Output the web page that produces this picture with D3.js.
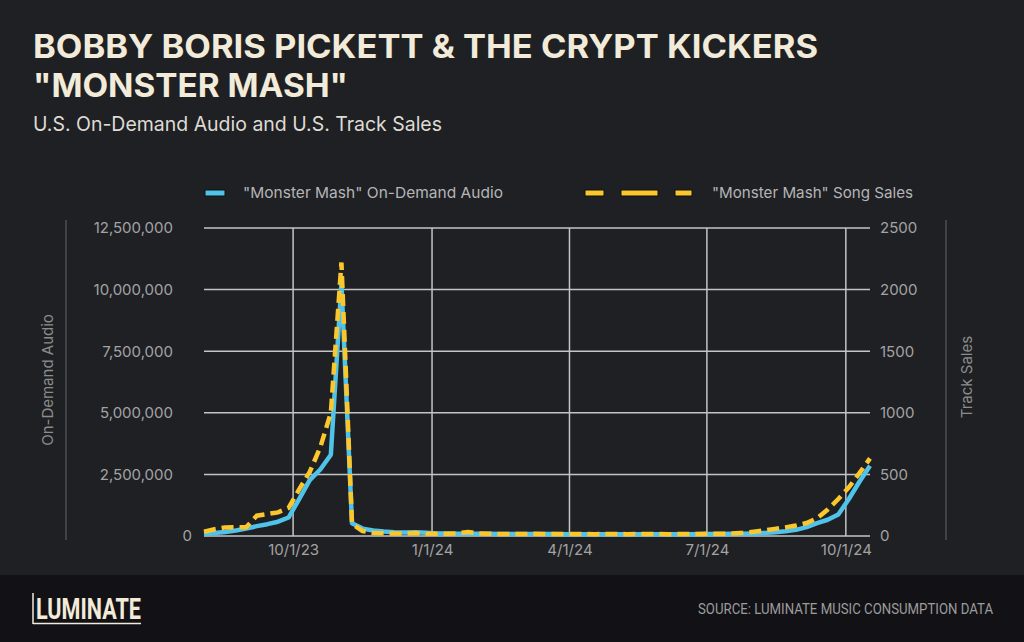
<!DOCTYPE html>
<html>
<head>
<meta charset="utf-8">
<script src="https://cdn.jsdelivr.net/npm/d3@7"></script>
<style>
  html, body { margin: 0; padding: 0; background: #1f2024; }
  svg { display: block; }
</style>
</head>
<body>
<svg id="chart" width="1024" height="642"></svg>
<script>
// ---------------- DATA ----------------
const weeks = [
  "2023-08-03","2023-08-10","2023-08-17","2023-08-24","2023-08-31","2023-09-07","2023-09-14","2023-09-21",
  "2023-09-28","2023-10-05","2023-10-12","2023-10-19","2023-10-26","2023-11-02","2023-11-09","2023-11-16",
  "2023-11-23","2023-11-30","2023-12-07","2023-12-14","2023-12-21","2023-12-28","2024-01-04","2024-01-11",
  "2024-01-18","2024-01-25","2024-02-01","2024-02-08","2024-02-15","2024-02-22","2024-02-29","2024-03-07",
  "2024-03-14","2024-03-21","2024-03-28","2024-04-04","2024-04-11","2024-04-18","2024-04-25","2024-05-02",
  "2024-05-09","2024-05-16","2024-05-23","2024-05-30","2024-06-06","2024-06-13","2024-06-20","2024-06-27",
  "2024-07-04","2024-07-11","2024-07-18","2024-07-25","2024-08-01","2024-08-08","2024-08-15","2024-08-22",
  "2024-08-29","2024-09-05","2024-09-12","2024-09-19","2024-09-26","2024-10-03","2024-10-10","2024-10-17"
];
const onDemandAudio = [
  80000,120000,160000,220000,300000,400000,480000,580000,
  750000,1500000,2270000,2700000,3300000,10250000,520000,300000,
  220000,180000,150000,140000,150000,130000,100000,100000,
  95000,90000,90000,88000,85000,82000,80000,80000,
  78000,78000,76000,76000,75000,75000,74000,74000,
  73000,73000,74000,73000,74000,75000,76000,78000,
  80000,82000,88000,95000,105000,120000,150000,190000,
  250000,360000,520000,660000,870000,1500000,2200000,2850000
];
const songSales = [
  35,55,70,72,72,165,178,192,
  228,378,520,720,1000,2220,100,40,
  25,22,20,20,24,20,18,18,
  22,32,20,18,17,17,16,18,
  17,16,16,17,16,15,16,16,
  15,16,17,16,15,16,17,17,
  18,18,20,26,35,45,58,70,
  85,105,145,215,300,395,510,630
];
const leftTicks = [0, 2500000, 5000000, 7500000, 10000000, 12500000];
const rightTicks = [0, 500, 1000, 1500, 2000, 2500];
const xTickDates = ["2023-10-01","2024-01-01","2024-04-01","2024-07-01","2024-10-01"];
const xTickLabels = ["10/1/23","1/1/24","4/1/24","7/1/24","10/1/24"];
const seriesNames = ["\"Monster Mash\" On-Demand Audio", "\"Monster Mash\" Song Sales"];

// ---------------- SETUP ----------------
const parse = d3.timeParse("%Y-%m-%d");
const data = weeks.map((w, i) => ({ date: parse(w), audio: onDemandAudio[i], sales: songSales[i] }));

const svg = d3.select("#chart");
const W = 1024, H = 642;
const plot = { left: 204, right: 870, top: 228, bottom: 536 };
const BG = "#1f2024", FOOT = "#121216", CREAM = "#f2ebd9";
const BLUE = "#4fc3ea", YELLOW = "#fcc72c";
const GRID = "#c4c4c4", TICKTXT = "#a3a3a3";
const FONT = "Inter, 'Noto Sans', sans-serif";

svg.append("rect").attr("width", W).attr("height", H).attr("fill", BG);
svg.append("rect").attr("x", 0).attr("y", 575).attr("width", W).attr("height", H - 575).attr("fill", FOOT);

const x = d3.scaleTime().domain(d3.extent(data, d => d.date)).range([plot.left, plot.right]);
const yL = d3.scaleLinear().domain([0, 12500000]).range([plot.bottom, plot.top]);
const yR = d3.scaleLinear().domain([0, 2500]).range([plot.bottom, plot.top]);

// ---------------- TITLES ----------------
svg.append("text").attr("x", 33).attr("y", 58)
  .attr("font-family", FONT).attr("font-weight", 700).attr("font-size", 32).attr("fill", CREAM)
  .attr("textLength", 785).attr("lengthAdjust", "spacingAndGlyphs")
  .text("BOBBY BORIS PICKETT & THE CRYPT KICKERS");
svg.append("text").attr("x", 33).attr("y", 97)
  .attr("font-family", FONT).attr("font-weight", 700).attr("font-size", 32).attr("fill", CREAM)
  .attr("textLength", 315).attr("lengthAdjust", "spacingAndGlyphs")
  .text("\"MONSTER MASH\"");
svg.append("text").attr("x", 33).attr("y", 131)
  .attr("font-family", FONT).attr("font-size", 20)
  .attr("fill", "#dedbd3").attr("textLength", 409).attr("lengthAdjust", "spacingAndGlyphs")
  .text("U.S. On-Demand Audio and U.S. Track Sales");

// ---------------- LEGEND ----------------
const legend = svg.append("g");
legend.append("rect").attr("x", 205).attr("y", 190).attr("width", 20).attr("height", 6)
  .attr("fill", BLUE).attr("stroke", "#101010").attr("stroke-width", 1);
legend.append("text").attr("x", 243).attr("y", 198)
  .attr("font-family", FONT).attr("font-size", 15).attr("fill", "#b5b5b5")
  .attr("textLength", 260).attr("lengthAdjust", "spacingAndGlyphs")
  .text(seriesNames[0]);
[[585, 604], [621, 658], [675, 692]].forEach(([a, b]) => {
  legend.append("rect").attr("x", a).attr("y", 190).attr("width", b - a).attr("height", 6)
    .attr("fill", YELLOW).attr("stroke", "#101010").attr("stroke-width", 1);
});
legend.append("text").attr("x", 712).attr("y", 198)
  .attr("font-family", FONT).attr("font-size", 15).attr("fill", "#b5b5b5")
  .attr("textLength", 201).attr("lengthAdjust", "spacingAndGlyphs")
  .text(seriesNames[1]);

// ---------------- GRID ----------------
const grid = svg.append("g");
grid.selectAll("line.h").data(leftTicks).join("line").attr("class", "h")
  .attr("x1", plot.left).attr("x2", plot.right)
  .attr("y1", d => yL(d)).attr("y2", d => yL(d))
  .attr("stroke", GRID).attr("stroke-width", 1.5);
grid.selectAll("line.v").data(xTickDates).join("line").attr("class", "v")
  .attr("x1", d => x(parse(d))).attr("x2", d => x(parse(d)))
  .attr("y1", plot.top).attr("y2", plot.bottom)
  .attr("stroke", GRID).attr("stroke-width", 1.5);

// ---------------- AXES ----------------
const fmt = d3.format(",");
const gL = svg.append("g").attr("transform", `translate(${plot.left},0)`)
  .call(d3.axisLeft(yL).tickValues(leftTicks).tickFormat(d => fmt(d)).tickSize(0).tickPadding(31));
gL.select(".domain").remove();
gL.selectAll("text").attr("font-family", FONT).attr("font-size", 15).attr("fill", TICKTXT)
  .attr("x", d => d === 0 ? -12 : -31);

const gR = svg.append("g").attr("transform", `translate(${plot.right},0)`)
  .call(d3.axisRight(yR).tickValues(rightTicks).tickFormat(d3.format("d")).tickSize(0).tickPadding(10));
gR.select(".domain").remove();
gR.selectAll("text").attr("font-family", FONT).attr("font-size", 15).attr("fill", TICKTXT);

const gB = svg.append("g").attr("transform", `translate(0,${plot.bottom})`)
  .call(d3.axisBottom(x).tickValues(xTickDates.map(parse)).tickFormat((d, i) => xTickLabels[i]).tickSize(0).tickPadding(8));
gB.select(".domain").remove();
gB.selectAll("text").attr("font-family", FONT).attr("font-size", 15).attr("fill", TICKTXT);

// axis titles + side rules
svg.append("line").attr("x1", 66).attr("x2", 66).attr("y1", 220).attr("y2", 540)
  .attr("stroke", "#5a5a5e").attr("stroke-width", 1.2);
svg.append("line").attr("x1", 946).attr("x2", 946).attr("y1", 220).attr("y2", 540)
  .attr("stroke", "#5a5a5e").attr("stroke-width", 1.2);
svg.append("text").attr("transform", "translate(53,380) rotate(-90)")
  .attr("text-anchor", "middle").attr("font-family", FONT).attr("font-size", 15).attr("fill", "#8c8c8c")
  .text("On-Demand Audio");
svg.append("text").attr("transform", "translate(972,377) rotate(-90)")
  .attr("text-anchor", "middle").attr("font-family", FONT).attr("font-size", 15).attr("fill", "#8c8c8c")
  .text("Track Sales");

// ---------------- LINES ----------------
const lineA = d3.line().x(d => x(d.date)).y(d => yL(d.audio));
const lineS = d3.line().x(d => x(d.date)).y(d => yR(d.sales));
svg.append("path").datum(data).attr("d", lineA)
  .attr("fill", "none").attr("stroke", BLUE).attr("stroke-width", 4.5).attr("stroke-linejoin", "round");
svg.append("path").datum(data).attr("d", lineS)
  .attr("fill", "none").attr("stroke", YELLOW).attr("stroke-width", 4.5)
  .attr("stroke-dasharray", "12,6");

// ---------------- FOOTER ----------------
const logo = svg.append("g");
logo.append("line").attr("x1", 33).attr("x2", 33).attr("y1", 593).attr("y2", 624)
  .attr("stroke", CREAM).attr("stroke-width", 1.5);
logo.append("line").attr("x1", 33).attr("x2", 141).attr("y1", 623.5).attr("y2", 623.5)
  .attr("stroke", CREAM).attr("stroke-width", 1.5);
logo.append("text").attr("x", 36).attr("y", 619)
  .attr("font-family", "'Liberation Sans Narrow', 'Roboto', sans-serif").attr("font-weight", 700)
  .attr("font-size", 30).attr("fill", CREAM)
  .attr("textLength", 105).attr("lengthAdjust", "spacingAndGlyphs")
  .text("LUMINATE");
svg.append("text").attr("x", 698).attr("y", 614)
  .attr("font-family", "'Liberation Sans Narrow', 'Roboto', sans-serif")
  .attr("font-size", 14).attr("fill", "#9c9c9c")
  .attr("textLength", 295).attr("lengthAdjust", "spacingAndGlyphs")
  .text("SOURCE: LUMINATE MUSIC CONSUMPTION DATA");
</script>
</body>
</html>
